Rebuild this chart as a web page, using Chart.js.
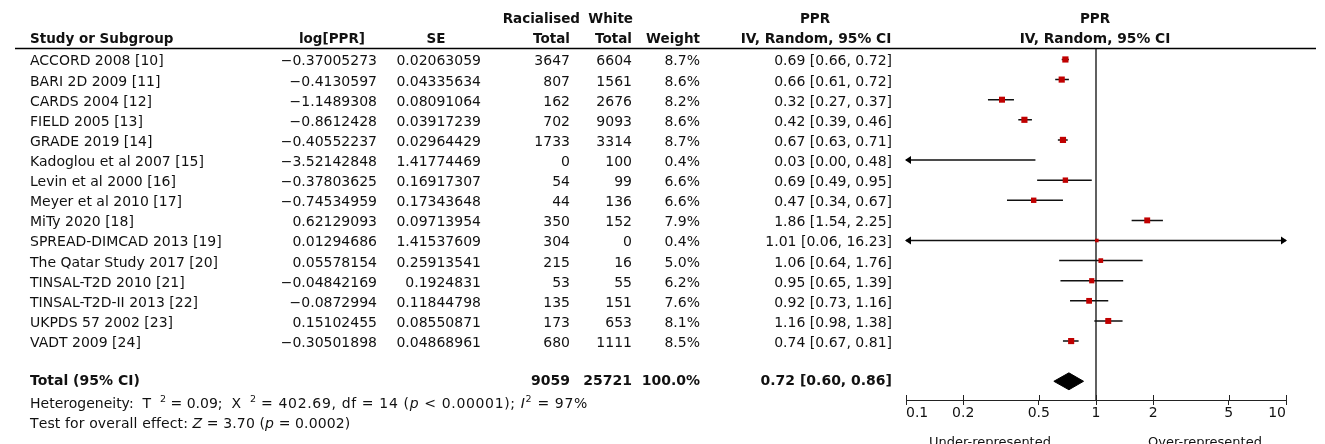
<!DOCTYPE html>
<html>
<head>
<meta charset="utf-8">
<title>PPR forest plot</title>
<script src="https://cdn.jsdelivr.net/npm/chart.js@4.4.1/dist/chart.umd.min.js"></script>
<style>
  html, body { margin: 0; padding: 0; background: #ffffff; }
  canvas { display: block; }
</style>
</head>
<body>
<canvas id="forest" width="1325" height="444"></canvas>
<script>
// ---- study-level data ----
const studies = [
  'ACCORD 2008 [10]', 'BARI 2D 2009 [11]', 'CARDS 2004 [12]', 'FIELD 2005 [13]',
  'GRADE 2019 [14]', 'Kadoglou et al 2007 [15]', 'Levin et al 2000 [16]',
  'Meyer et al 2010 [17]', 'MiTy 2020 [18]', 'SPREAD-DIMCAD 2013 [19]',
  'The Qatar Study 2017 [20]', 'TINSAL-T2D 2010 [21]', 'TINSAL-T2D-II 2013 [22]',
  'UKPDS 57 2002 [23]', 'VADT 2009 [24]'
];
const logPPR = [
  -0.37005273, -0.4130597, -1.1489308, -0.8612428, -0.40552237, -3.52142848,
  -0.37803625, -0.74534959, 0.62129093, 0.01294686, 0.05578154, -0.04842169,
  -0.0872994, 0.15102455, -0.30501898
];
const stdErr = [
  0.02063059, 0.04335634, 0.08091064, 0.03917239, 0.02964429, 1.41774469,
  0.16917307, 0.17343648, 0.09713954, 1.41537609, 0.25913541, 0.1924831,
  0.11844798, 0.08550871, 0.04868961
];
const racialisedTotal = [3647, 807, 162, 702, 1733, 0, 54, 44, 350, 304, 215, 53, 135, 173, 680];
const whiteTotal = [6604, 1561, 2676, 9093, 3314, 100, 99, 136, 152, 0, 16, 55, 151, 653, 1111];
const weightPct = [8.7, 8.6, 8.2, 8.6, 8.7, 0.4, 6.6, 6.6, 7.9, 0.4, 5.0, 6.2, 7.6, 8.1, 8.5];
const ppr = [0.69, 0.66, 0.32, 0.42, 0.67, 0.03, 0.69, 0.47, 1.86, 1.01, 1.06, 0.95, 0.92, 1.16, 0.74];
const ciLower = [0.66, 0.61, 0.27, 0.39, 0.63, 0.00, 0.49, 0.34, 1.54, 0.06, 0.64, 0.65, 0.73, 0.98, 0.67];
const ciUpper = [0.72, 0.72, 0.37, 0.46, 0.71, 0.48, 0.95, 0.67, 2.25, 16.23, 1.76, 1.39, 1.16, 1.38, 0.81];

// ---- pooled (random effects) result ----
const totalRacialised = 9059;
const totalWhite = 25721;
const totalWeight = 100.0;
const pooledPPR = [0.72, 0.60, 0.86];   // estimate, lower, upper

// ---- axis ----
const xTicks = [0.1, 0.2, 0.5, 1, 2, 5, 10];
const xLabels = ['Under-represented', 'Over-represented'];

// ---- layout / style constants ----
const FAMILY = '"DejaVu Sans", Verdana, sans-serif';
const INK = '#111111';
const RED = '#c00000';
const X_MIN = 0.1, X_MAX = 10;
const Y_MIN = -0.57, Y_MAX = 16.93;
const TOTAL_ROW = 16;
const DIAMOND_HALF = 0.42;

const fnt = (size, weight = 'normal', style = 'normal') => `${style} ${weight} ${size}px ${FAMILY}`;
const minus = s => s.replace('-', '\u2212');
const fmt2 = v => v.toFixed(2);
const ciText = (p, lo, hi) => `${fmt2(p)} [${fmt2(lo)}, ${fmt2(hi)}]`;

// CI segments, broken between studies and clamped to the axis range
const ciSegments = [];
studies.forEach((_, i) => {
  ciSegments.push({ x: Math.max(ciLower[i], X_MIN), y: i });
  ciSegments.push({ x: Math.min(ciUpper[i], X_MAX), y: i });
  ciSegments.push({ x: null, y: null });
});

const estimates = studies.map((_, i) => ({ x: ppr[i], y: i }));
// square side grows with the study weight
const squareRadius = weightPct.map(w => Math.max(3.6, 2.1 * Math.sqrt(w)) / Math.SQRT2);

const diamond = [
  { x: pooledPPR[1], y: TOTAL_ROW },
  { x: pooledPPR[0], y: TOTAL_ROW - DIAMOND_HALF },
  { x: pooledPPR[2], y: TOTAL_ROW },
  { x: pooledPPR[0], y: TOTAL_ROW + DIAMOND_HALF },
  { x: pooledPPR[1], y: TOTAL_ROW }
];

// draws a run of text pieces: [text, kind, spacing] with kind n(ormal) / i(talic) / s(uperscript)
function drawRich(ctx, x, y, parts, size) {
  let cx = x;
  ctx.textAlign = 'left';
  parts.forEach(([t, kind, spacing]) => {
    let dy = 0;
    if (kind === 's') { ctx.font = fnt(size * 0.68); dy = -size * 0.42; }
    else if (kind === 'i') { ctx.font = fnt(size, 'normal', 'oblique'); }
    else { ctx.font = fnt(size); }
    const sp = spacing || 0;
    if (!sp) {
      ctx.fillText(t, cx, y + dy);
      cx += ctx.measureText(t).width;
    } else {
      for (const ch of t) {
        ctx.fillText(ch, cx, y + dy);
        cx += ctx.measureText(ch).width + sp;
      }
    }
  });
}

function text(ctx, t, x, y, align, font) {
  ctx.font = font;
  ctx.textAlign = align;
  ctx.fillText(t, x, y);
}

const forestTable = {
  id: 'forestTable',
  afterDraw(chart) {
    const ctx = chart.ctx;
    const ys = chart.scales.y, xs = chart.scales.x;
    ctx.save();
    ctx.fillStyle = INK;
    ctx.textBaseline = 'alphabetic';

    // column headers
    const hb = fnt(13.5, 'bold');
    text(ctx, 'Racialised', 580, 23, 'right', hb);
    text(ctx, 'White', 633, 23, 'right', hb);
    text(ctx, 'PPR', 815, 23, 'center', hb);
    text(ctx, 'PPR', 1095, 23, 'center', hb);
    text(ctx, 'Study or Subgroup', 30, 43, 'left', hb);
    text(ctx, 'log[PPR]', 332, 43, 'center', hb);
    text(ctx, 'SE', 436, 43, 'center', hb);
    text(ctx, 'Total', 570, 43, 'right', hb);
    text(ctx, 'Total', 632, 43, 'right', hb);
    text(ctx, 'Weight', 700, 43, 'right', hb);
    text(ctx, 'IV, Random, 95% CI', 816, 43, 'center', fnt(13.8, 'bold'));
    text(ctx, 'IV, Random, 95% CI', 1095, 43, 'center', fnt(13.8, 'bold'));

    // header rule
    ctx.strokeStyle = '#000';
    ctx.lineWidth = 1.3;
    ctx.beginPath();
    ctx.moveTo(15, 48.5);
    ctx.lineTo(1316, 48.5);
    ctx.stroke();

    // study rows
    const rf = fnt(14);
    studies.forEach((name, i) => {
      const by = ys.getPixelForValue(i) + 6;
      text(ctx, name, 30, by, 'left', rf);
      text(ctx, minus(String(logPPR[i])), 377, by, 'right', rf);
      text(ctx, String(stdErr[i]), 481, by, 'right', rf);
      text(ctx, String(racialisedTotal[i]), 570, by, 'right', rf);
      text(ctx, String(whiteTotal[i]), 632, by, 'right', rf);
      text(ctx, weightPct[i].toFixed(1) + '%', 700, by, 'right', rf);
      text(ctx, ciText(ppr[i], ciLower[i], ciUpper[i]), 892, by, 'right', rf);
    });

    // pooled row
    const tb = ys.getPixelForValue(TOTAL_ROW) + 4;
    const bf = fnt(14, 'bold');
    text(ctx, 'Total (95% CI)', 30, tb, 'left', bf);
    text(ctx, String(totalRacialised), 570, tb, 'right', bf);
    text(ctx, String(totalWhite), 632, tb, 'right', bf);
    text(ctx, totalWeight.toFixed(1) + '%', 700, tb, 'right', bf);
    text(ctx, ciText(pooledPPR[0], pooledPPR[1], pooledPPR[2]), 892, tb, 'right', bf);

    // heterogeneity and overall effect
    const ls = 0.65;
    drawRich(ctx, 30, 408, [
      ['Heterogeneity:  ', 'n'], ['\u03A4', 'n'], ['  ', 'n'], ['2', 's'],
      [' = 0.09;  ', 'n'], ['\u03A7', 'n'], ['  ', 'n'], ['2', 's'],
      [' = 402.69, df = 14 (', 'n', ls], ['p', 'i', ls], [' < 0.00001); ', 'n', ls],
      ['I', 'i', ls], ['2', 's', ls], [' = 97%', 'n', ls]
    ], 14);
    drawRich(ctx, 30, 428, [
      ['Test for overall effect: ', 'n', 0.12], ['Z', 'i', 0.12], [' = 3.70 (', 'n', 0.12],
      ['p', 'i', 0.12], [' = 0.0002)', 'n', 0.12]
    ], 14);

    // arrowheads for intervals running past the axis
    const left = xs.getPixelForValue(X_MIN), right = xs.getPixelForValue(X_MAX);
    ctx.fillStyle = '#000';
    studies.forEach((_, i) => {
      const py = ys.getPixelForValue(i);
      if (ciLower[i] < X_MIN) {
        ctx.beginPath();
        ctx.moveTo(left - 1, py);
        ctx.lineTo(left + 5, py - 4);
        ctx.lineTo(left + 5, py + 4);
        ctx.closePath();
        ctx.fill();
      }
      if (ciUpper[i] > X_MAX) {
        ctx.beginPath();
        ctx.moveTo(right + 1, py);
        ctx.lineTo(right - 5, py - 4);
        ctx.lineTo(right - 5, py + 4);
        ctx.closePath();
        ctx.fill();
      }
    });

    // upper half of the axis tick marks
    ctx.strokeStyle = '#222';
    ctx.lineWidth = 1;
    xTicks.forEach(v => {
      const px = Math.round(xs.getPixelForValue(v)) + 0.5;
      ctx.beginPath();
      ctx.moveTo(px, xs.top);
      ctx.lineTo(px, xs.top - 5);
      ctx.stroke();
    });

    // direction labels under the axis
    ctx.fillStyle = INK;
    text(ctx, xLabels[0], 990, 446, 'center', fnt(13));
    text(ctx, xLabels[1], 1205, 446, 'center', fnt(13));
    ctx.restore();
  }
};

new Chart(document.getElementById('forest'), {
  type: 'scatter',
  data: {
    datasets: [
      {
        label: 'Study PPR',
        data: estimates,
        pointStyle: 'rect',
        pointRadius: squareRadius,
        backgroundColor: RED,
        borderWidth: 0,
        order: 0
      },
      {
        label: 'Pooled PPR',
        data: diamond,
        showLine: true,
        fill: 'shape',
        backgroundColor: '#000',
        borderColor: '#000',
        borderWidth: 1,
        pointRadius: 0,
        tension: 0,
        order: 1
      },
      {
        label: '95% CI',
        data: ciSegments,
        showLine: true,
        spanGaps: false,
        borderColor: '#111',
        borderWidth: 1.5,
        pointRadius: 0,
        order: 2
      },
      {
        label: 'No difference',
        data: [{ x: 1, y: Y_MIN }, { x: 1, y: Y_MAX }],
        showLine: true,
        borderColor: '#3a3a3a',
        borderWidth: 1.6,
        pointRadius: 0,
        order: 3
      }
    ]
  },
  options: {
    responsive: false,
    animation: false,
    events: [],
    layout: { padding: { left: 906, right: 39, top: 48, bottom: 0 } },
    plugins: { legend: { display: false }, tooltip: { enabled: false } },
    scales: {
      x: {
        type: 'logarithmic',
        position: 'bottom',
        min: X_MIN,
        max: X_MAX,
        afterBuildTicks: s => { s.ticks = xTicks.map(v => ({ value: v })); },
        afterFit: s => { s.height = 44; },
        border: { display: true, color: '#222', width: 1 },
        grid: { display: true, drawOnChartArea: false, drawTicks: true, tickLength: 5, color: '#222', lineWidth: 1 },
        ticks: {
          autoSkip: false,
          maxRotation: 0,
          align: 'inner',
          padding: 0,
          color: INK,
          font: { family: FAMILY, size: 14 },
          callback: v => String(v)
        }
      },
      y: {
        type: 'linear',
        reverse: true,
        min: Y_MIN,
        max: Y_MAX,
        display: false
      }
    }
  },
  plugins: [forestTable]
});
</script>
</body>
</html>
